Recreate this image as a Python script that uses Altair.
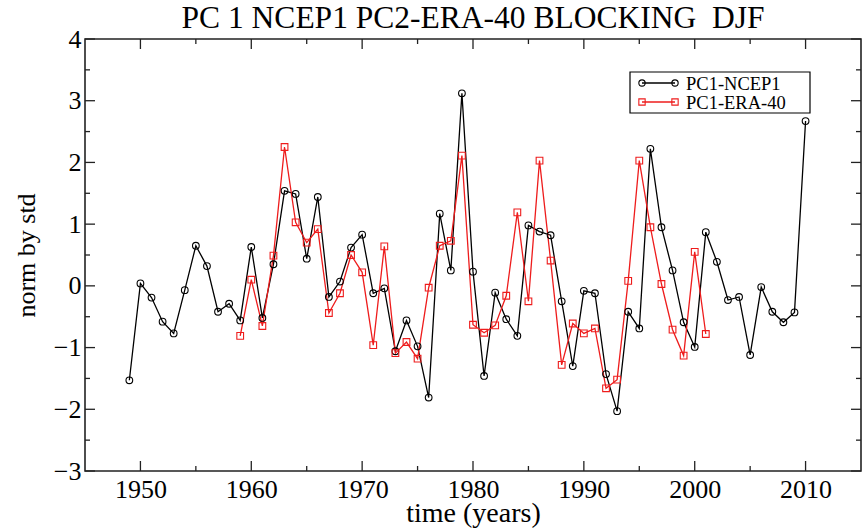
import altair as alt
import pandas as pd

# ---------------- data ----------------
ncep_years = list(range(1949, 2011))
ncep_values = [-1.53, 0.04, -0.19, -0.58, -0.77, -0.07, 0.65, 0.32, -0.42, -0.29,
               -0.56, 0.63, -0.52, 0.35, 1.54, 1.49, 0.44, 1.44, -0.18, 0.07,
               0.62, 0.83, -0.12, -0.04, -1.06, -0.56, -0.98, -1.81, 1.17, 0.25,
               3.12, 0.23, -1.46, -0.11, -0.54, -0.81, 0.98, 0.88, 0.82, -0.25,
               -1.30, -0.08, -0.12, -1.43, -2.03, -0.42, -0.69, 2.22, 0.95, 0.25,
               -0.59, -0.99, 0.87, 0.39, -0.23, -0.18, -1.12, -0.02, -0.42, -0.59,
               -0.43, 2.67]
era_years = list(range(1959, 2002))
era_values = [-0.81, 0.10, -0.65, 0.49, 2.25, 1.03, 0.70, 0.92, -0.44, -0.12,
              0.50, 0.22, -0.96, 0.64, -1.09, -0.91, -1.18, -0.03, 0.65, 0.73,
              2.11, -0.63, -0.76, -0.64, -0.16, 1.19, -0.25, 2.03, 0.41, -1.28,
              -0.61, -0.77, -0.69, -1.66, -1.52, 0.08, 2.03, 0.95, 0.03, -0.71,
              -1.13, 0.55, -0.78]
series_names = ["PC1-NCEP1", "PC1-ERA-40"]
series_colors = ["#000000", "#ee1c1c"]
series_shapes = ["circle", "square"]

x_major = [1950, 1960, 1970, 1980, 1990, 2000, 2010]
x_minor = [1955, 1965, 1975, 1985, 1995, 2005]
y_major = [-3, -2, -1, 0, 1, 2, 3, 4]
y_minor = [-2.5, -1.5, -0.5, 0.5, 1.5, 2.5, 3.5]

title_text = "PC 1 NCEP1 PC2-ERA-40 BLOCKING\u00a0\u00a0DJF"
x_title = "time (years)"
y_title = "norm by std"

# ---------------- build ----------------
W, H = 776, 432
FONT = "Liberation Serif"

df = pd.concat([
    pd.DataFrame({"year": ncep_years, "value": ncep_values, "series": series_names[0]}),
    pd.DataFrame({"year": era_years, "value": era_values, "series": series_names[1]}),
])

xs = alt.Scale(domain=[1945, 2015], nice=False, zero=False)
ys = alt.Scale(domain=[-3, 4], nice=False, zero=False)
cs = alt.Scale(domain=series_names, range=series_colors)
ss = alt.Scale(domain=series_names, range=series_shapes)

common = dict(labelFont=FONT, titleFont=FONT, labelColor="black", titleColor="black",
              titleFontWeight="normal", ticks=False, domain=False, grid=False)
xaxis = alt.Axis(values=x_major, format="d", title=x_title, labelPadding=5, titlePadding=-3,
                 labelFontSize=26, titleFontSize=28, **common)
yaxis = alt.Axis(values=y_major, format="d", title=y_title, labelPadding=4, titlePadding=14,
                 labelFontSize=26, titleFontSize=26, **common)

base = alt.Chart(df)
lines = base.mark_line(strokeWidth=1.3).encode(
    x=alt.X("year:Q", scale=xs, axis=xaxis), y=alt.Y("value:Q", scale=ys, axis=yaxis),
    color=alt.Color("series:N", scale=cs, legend=None),
    detail="series:N", order="year:Q")
points = base.mark_point(filled=False, size=45, strokeWidth=1.1, opacity=1).encode(
    x=alt.X("year:Q", scale=xs, axis=xaxis), y=alt.Y("value:Q", scale=ys, axis=yaxis),
    color=alt.Color("series:N", scale=cs, legend=None),
    shape=alt.Shape("series:N", scale=ss, legend=None))


def tick_layer(vals, horizontal, side, length):
    d = alt.Chart(pd.DataFrame({"year": vals, "value": vals})).mark_rule(color="#222222", strokeWidth=1.3)
    if horizontal:  # ticks along x axis (vertical rules)
        y0 = H if side == "bottom" else 0
        y1 = H - length if side == "bottom" else length
        return d.encode(x=alt.X("year:Q", scale=xs, axis=xaxis), y=alt.value(y0), y2=alt.value(y1))
    x0 = 0 if side == "left" else W
    x1 = length if side == "left" else W - length
    return d.encode(y=alt.Y("value:Q", scale=ys, axis=yaxis), x=alt.value(x0), x2=alt.value(x1))


ticks = [
    tick_layer(x_major, True, "bottom", 10), tick_layer(x_minor, True, "bottom", 5),
    tick_layer(x_major, True, "top", 10), tick_layer(x_minor, True, "top", 5),
    tick_layer(y_major, False, "left", 10), tick_layer(y_minor, False, "left", 5),
    tick_layer(y_major, False, "right", 10), tick_layer(y_minor, False, "right", 5),
]

# legend (manual, XMGrace style)
one = pd.DataFrame({"a": [0]})
lx0, lx1, ly0, ly1 = 545, 725, 33, 74
leg = [alt.Chart(one).mark_rect(fill="white", stroke="black", strokeWidth=1.2).encode(
    x=alt.value(lx0), x2=alt.value(lx1), y=alt.value(ly0), y2=alt.value(ly1))]
for i, (nm, col, shp) in enumerate(zip(series_names, series_colors, series_shapes)):
    yy = 44 + i * 19
    leg.append(alt.Chart(one).mark_rule(color=col, strokeWidth=1.3).encode(
        x=alt.value(557), x2=alt.value(590), y=alt.value(yy)))
    for px in (557, 590):
        leg.append(alt.Chart(one).mark_point(filled=False, size=40, color=col, shape=shp, opacity=1,
                                             strokeWidth=1.1).encode(
            x=alt.value(px), y=alt.value(yy)))
    leg.append(alt.Chart(one).mark_text(text=nm, align="left", baseline="middle", font=FONT,
                                        fontSize=18.5, color="black").encode(
        x=alt.value(601), y=alt.value(yy + 1)))

chart = alt.layer(lines, points, *ticks, *leg).properties(
    width=W, height=H,
    title=alt.TitleParams(title_text, font=FONT, fontSize=31.5, fontWeight="normal", color="black",
                          anchor="middle", offset=-8),
    autosize=alt.AutoSizeParams(type="none"),
    padding={"left": 85, "top": 39, "right": 1, "bottom": 58},
).configure_axis(
    labelFont=FONT, titleFont=FONT
).configure_view(stroke="#222222", strokeWidth=1.6)

chart.save("out.html", embed_options={"renderer": "svg", "actions": False})
